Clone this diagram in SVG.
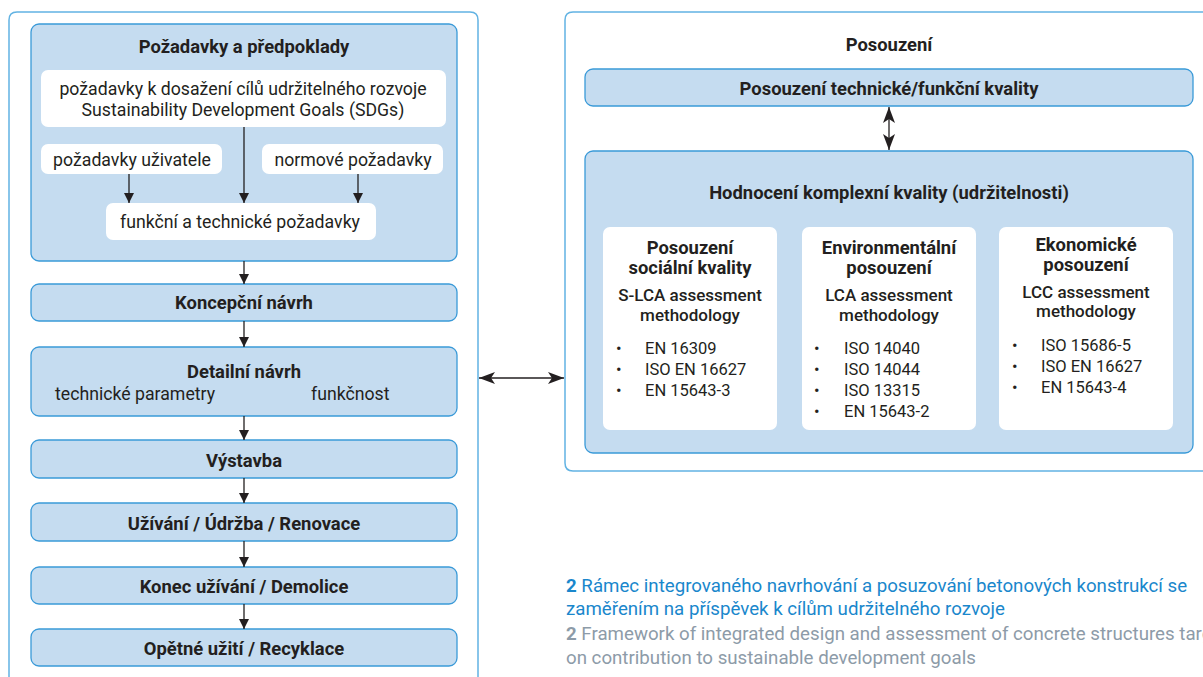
<svg xmlns="http://www.w3.org/2000/svg" width="1203" height="677" viewBox="0 0 1203 677">
<defs>
<style>
text{font-family:Roboto,"Noto Sans","Liberation Sans",sans-serif;fill:#231f20;}
.b{font-weight:bold;font-size:18.4px;text-anchor:middle;}
.m{font-weight:500;font-size:17px;text-anchor:middle;}
.r{font-size:17.7px;}
.l{font-size:16.5px;}
.c{text-anchor:middle;}
.box{fill:#c5dcf0;stroke:#3a9ad8;stroke-width:1.3;}
.wb{fill:#ffffff;}
.frame{fill:none;stroke:#62b3e3;stroke-width:1.5;}
.ln{stroke:#231f20;stroke-width:1.3;fill:none;}
.cap1{font-size:18.7px;fill:#1a87cc;}
.cap2{font-size:18.7px;fill:#8d9ba8;}
</style>
<marker id="ah" viewBox="0 0 10 10" refX="10" refY="5" markerWidth="10" markerHeight="10" markerUnits="userSpaceOnUse" orient="auto-start-reverse">
<path d="M0,0 L10,5 L0,10 z" fill="#231f20"/>
</marker>
<marker id="ah2" viewBox="0 0 16 12" refX="16" refY="6" markerWidth="16" markerHeight="12" markerUnits="userSpaceOnUse" orient="auto-start-reverse">
<path d="M0,0 L16,6 L0,12 L4,6 z" fill="#231f20"/>
</marker>
</defs>
<rect width="1203" height="677" fill="#ffffff"/>
<g id="frames">
<path class="frame" d="M9,690 L9,20 Q9,12 17,12 L470,12 Q478,12 478,20 L478,690"/>
<path class="frame" d="M1210,12 L573,12 Q565,12 565,20 L565,463 Q565,471 573,471 L1210,471"/>
</g>
<g id="req">
<rect class="box" x="31" y="24" width="426" height="237" rx="8"/>
<text class="b" x="244" y="53">Požadavky a předpoklady</text>
<rect class="wb" x="41" y="70" width="405" height="57" rx="7"/>
<text class="r c" x="243" y="95">požadavky k dosažení cílů udržitelného rozvoje</text>
<text class="r c" x="243" y="116">Sustainability Development Goals (SDGs)</text>
<rect class="wb" x="41" y="144" width="181" height="30" rx="7"/>
<text class="r c" x="132" y="166">požadavky uživatele</text>
<rect class="wb" x="262" y="144" width="181" height="30" rx="7"/>
<text class="r c" x="353" y="166">normové požadavky</text>
<rect class="wb" x="106" y="203" width="270" height="37" rx="7"/>
<text class="r c" x="240" y="228">funkční a technické požadavky</text>
</g>
<g id="koncept"><rect class="box" x="31" y="284" width="426" height="37" rx="8"/><text class="b" x="244" y="309">Koncepční návrh</text></g>
<g id="detail"><rect class="box" x="31" y="347" width="426" height="69" rx="8"/><text class="b" x="244" y="378">Detailní návrh</text>
<text class="r" x="55" y="400">technické parametry</text><text class="r" x="311" y="400">funkčnost</text></g>
<g id="vystavba"><rect class="box" x="31" y="440" width="426" height="38" rx="8"/><text class="b" x="244" y="467">Výstavba</text></g>
<g id="uzivani"><rect class="box" x="31" y="503" width="426" height="38" rx="8"/><text class="b" x="244" y="530">Užívání / Údržba / Renovace</text></g>
<g id="konec"><rect class="box" x="31" y="567" width="426" height="37" rx="8"/><text class="b" x="244" y="593">Konec užívání / Demolice</text></g>
<g id="recyklace"><rect class="box" x="31" y="629" width="426" height="37" rx="8"/><text class="b" x="244" y="655">Opětné užití / Recyklace</text></g>
<g id="posouzeni">
<text class="b" x="889" y="51">Posouzení</text>
</g>
<g id="technicka"><rect class="box" x="585" y="69" width="608" height="37" rx="8"/><text class="b" x="889" y="95">Posouzení technické/funkční kvality</text></g>
<g id="komplexni">
<rect class="box" x="585" y="151" width="608" height="302" rx="8"/>
<text class="b" x="889" y="199">Hodnocení komplexní kvality (udržitelnosti)</text>
</g>
<g id="socialni">
<rect class="wb" x="603" y="227" width="174" height="203" rx="7"/>
<text class="b" x="690" y="254">Posouzení</text>
<text class="b" x="690" y="274">sociální kvality</text>
<text class="m" x="690" y="301">S-LCA assessment</text>
<text class="m" x="690" y="321">methodology</text>
<text class="l" x="616" y="354">•</text><text class="l" x="645" y="354">EN 16309</text>
<text class="l" x="616" y="375">•</text><text class="l" x="645" y="375">ISO EN 16627</text>
<text class="l" x="616" y="396">•</text><text class="l" x="645" y="396">EN 15643-3</text>
</g>
<g id="environmentalni">
<rect class="wb" x="802" y="227" width="174" height="203" rx="7"/>
<text class="b" x="889" y="254">Environmentální</text>
<text class="b" x="889" y="274">posouzení</text>
<text class="m" x="889" y="301">LCA assessment</text>
<text class="m" x="889" y="321">methodology</text>
<text class="l" x="814" y="354">•</text><text class="l" x="844" y="354">ISO 14040</text>
<text class="l" x="814" y="375">•</text><text class="l" x="844" y="375">ISO 14044</text>
<text class="l" x="814" y="396">•</text><text class="l" x="844" y="396">ISO 13315</text>
<text class="l" x="814" y="417">•</text><text class="l" x="844" y="417">EN 15643-2</text>
</g>
<g id="ekonomicke">
<rect class="wb" x="999" y="227" width="174" height="203" rx="7"/>
<text class="b" x="1086" y="251">Ekonomické</text>
<text class="b" x="1086" y="271">posouzení</text>
<text class="m" x="1086" y="298">LCC assessment</text>
<text class="m" x="1086" y="317">methodology</text>
<text class="l" x="1012" y="351">•</text><text class="l" x="1041" y="351">ISO 15686-5</text>
<text class="l" x="1012" y="372">•</text><text class="l" x="1041" y="372">ISO EN 16627</text>
<text class="l" x="1012" y="393">•</text><text class="l" x="1041" y="393">EN 15643-4</text>
</g>
<g id="connectors">
<line class="ln" x1="129" y1="174" x2="129" y2="203" marker-end="url(#ah)"/>
<line class="ln" x1="244" y1="127" x2="244" y2="203" marker-end="url(#ah)"/>
<line class="ln" x1="358" y1="174" x2="358" y2="203" marker-end="url(#ah)"/>
<line class="ln" x1="244" y1="261" x2="244" y2="284" marker-end="url(#ah)"/>
<line class="ln" x1="244" y1="321" x2="244" y2="347" marker-end="url(#ah)"/>
<line class="ln" x1="244" y1="416" x2="244" y2="440" marker-end="url(#ah)"/>
<line class="ln" x1="244" y1="478" x2="244" y2="503" marker-end="url(#ah)"/>
<line class="ln" x1="244" y1="541" x2="244" y2="567" marker-end="url(#ah)"/>
<line class="ln" x1="244" y1="604" x2="244" y2="629" marker-end="url(#ah)"/>
<line class="ln" x1="889" y1="107" x2="889" y2="150" marker-start="url(#ah2)" marker-end="url(#ah2)"/>
<line class="ln" x1="479" y1="378" x2="564" y2="378" marker-start="url(#ah2)" marker-end="url(#ah2)"/>
</g>
<g id="caption">
<text class="cap1" x="566" y="592"><tspan font-weight="bold">2</tspan> Rámec integrovaného navrhování a posuzování betonových konstrukcí se</text>
<text class="cap1" x="566" y="615">zaměřením na příspěvek k cílům udržitelného rozvoje</text>
<text class="cap2" x="566" y="640"><tspan font-weight="bold">2</tspan> Framework of integrated design and assessment of concrete structures targeted</text>
<text class="cap2" x="566" y="664">on contribution to sustainable development goals</text>
</g>
</svg>
